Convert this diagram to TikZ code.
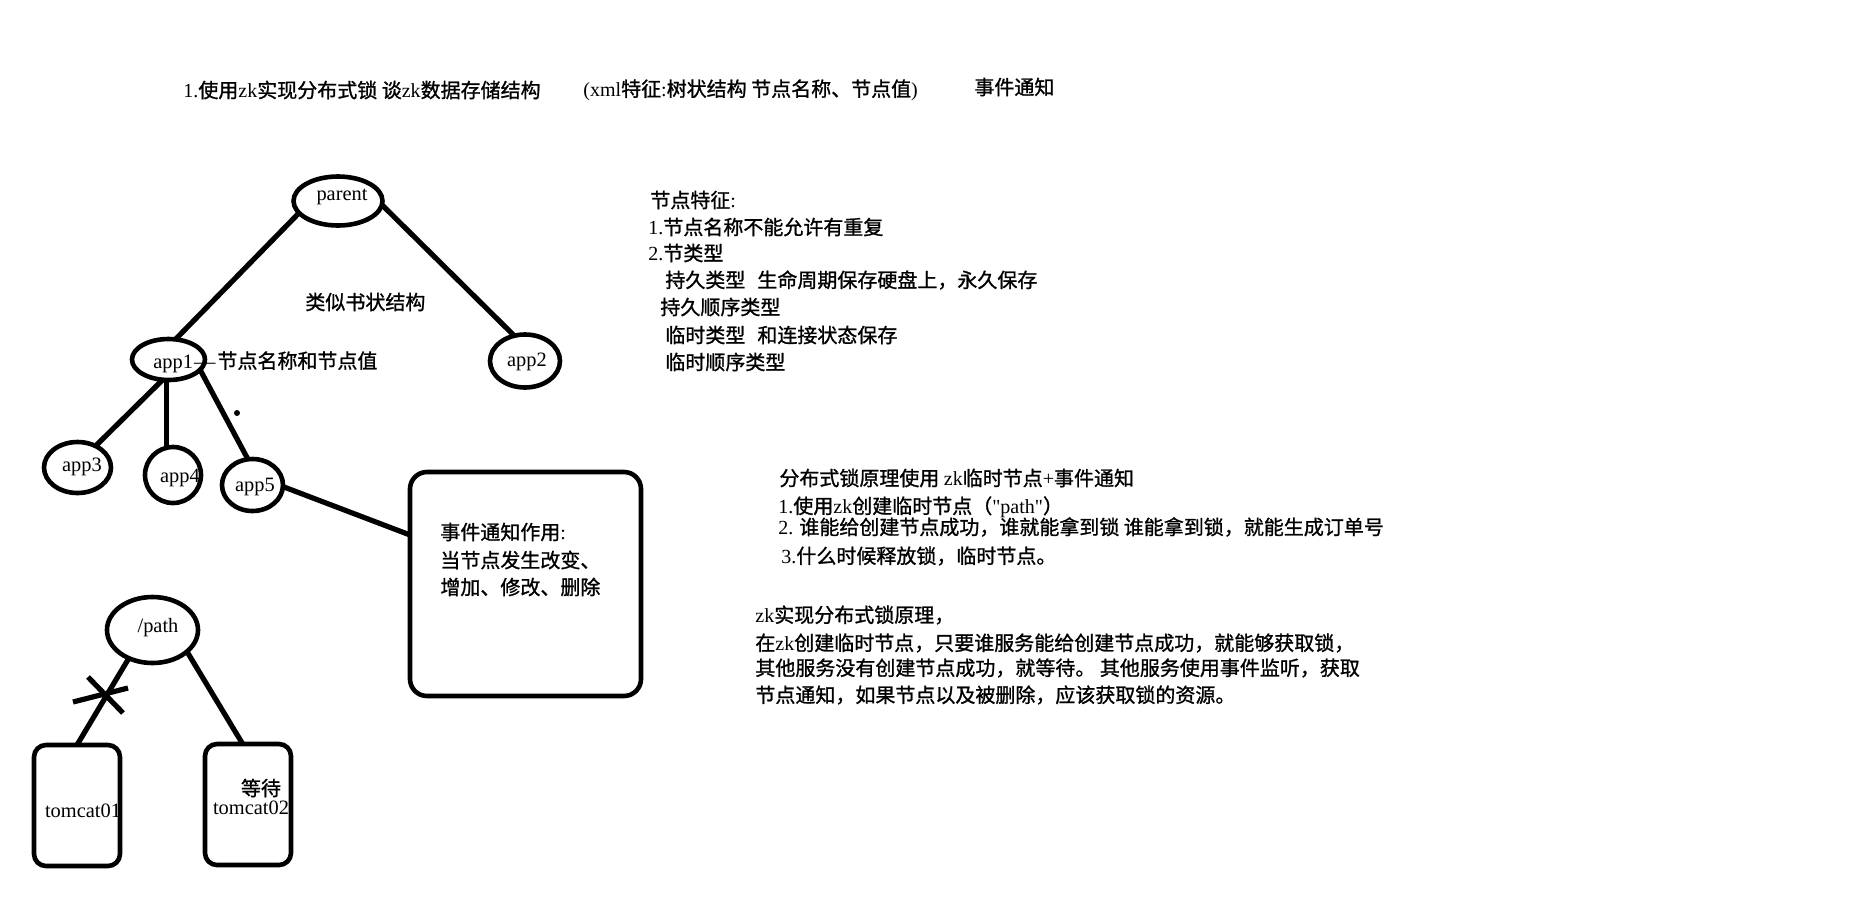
\documentclass[tikz,border=0pt]{standalone}
\usepackage{fontspec}
\setmainfont{Liberation Serif}
\newfontfamily\latq{Liberation Serif}
\newfontfamily\cjk[FakeBold=1.1]{Noto Sans CJK SC}
\usetikzlibrary{shapes.geometric}
\newcommand\lbfont{\fontsize{10.2pt}{12pt}\selectfont}
\newcommand\zhfont{\cjk\fontsize{10pt}{12pt}\selectfont}
\newcommand\latn[1]{{\rmfamily #1}}
\tikzset{
  ln/.style={line width=2.6pt},
  ell/.style={ellipse, draw, line width=2.3pt, inner sep=0pt, outer sep=0pt},
  rbox/.style={rectangle, draw, line width=2.3pt, rounded corners=6pt, inner sep=0pt, outer sep=0pt},
  lbl/.style={inner sep=0pt, font=\lbfont},
  zh/.style={inner sep=0pt, anchor=west, font=\zhfont},
}
\begin{document}
\begin{tikzpicture}[x=0.5pt,y=-0.5pt]
\fill[white] (0,0) rectangle (1876,917);
\path[use as bounding box] (0,0) rectangle (1876,917);

% title
\node[zh] (t1) at (183,90) {\latn{1.}使用\latn{zk}实现分布式锁 谈\latn{zk}数据存储结构};
\node[zh] (t2) at (583,90) {\latn{(xml}特征\latn{:}树状结构 节点名称、节点值\latn{)}};
\node[zh] (t3) at (974,87) {事件通知};

% tree
\node[ell, minimum width=44.5pt, minimum height=24.5pt] (parent) at (338,201) {};
\node[lbl] (parentt) at (342,197) {parent};
\node[ell, minimum width=36.5pt, minimum height=20.5pt] (app1) at (168.5,359.5) {};
\node[lbl, anchor=west] (app1t) at (153,362) {app1\kern0.5pt\textendash\kern0.5pt\textendash\kern1pt{\zhfont 节点名称和节点值}};
\node[ell, minimum width=35pt, minimum height=26.5pt] (app2) at (525,361) {};
\node[lbl] (app2t) at (527,362) {app2};
\node[ell, minimum width=33.5pt, minimum height=25.5pt] (app3) at (77.5,467.5) {};
\node[lbl] (app3t) at (82,467) {app3};
\node[ell, minimum width=28pt, minimum height=28pt] (app4) at (173,475) {};
\node[lbl] (app4t) at (180,478) {app4};
\node[ell, minimum width=30.5pt, minimum height=26pt] (app5) at (252.5,485) {};
\node[lbl] (app5t) at (255,487) {app5};
\node[zh] (similar) at (305,302) {类似书状结构};
\node[circle, fill, inner sep=0pt, minimum size=3pt] (dot) at (237,413) {};

\draw[ln] (parent.197) -- (app1.71);
\draw[ln] (parent.355) -- (app2.113);
\draw[ln] (app1.254) -- (app3.50);
\draw[ln] (app1.265) -- (app1.265 |- app4.north);
\draw[ln] (app1.342) -- (app5.100);

% event box
\node[rbox, rounded corners=8.5pt, minimum width=115.5pt, minimum height=112pt] (box) at (525.5,584) {};
\draw[ln] (app5.357) -- (box.157);
\node[zh] (b1) at (440,532) {事件通知作用\latn{:}};
\node[zh] (b2) at (440,560) {当节点发生改变、};
\node[zh] (b3) at (440,587) {增加、修改、删除};

% path / tomcat
\node[ell, minimum width=45.5pt, minimum height=33pt] (path) at (152.5,630) {};
\node[lbl] (patht) at (158,628) {/path};
\node[rbox, minimum width=43pt, minimum height=60.5pt] (tom1) at (77,805.5) {};
\node[rbox, minimum width=43pt, minimum height=60.5pt] (tom2) at (248,804.5) {};
\node[lbl] (tom1t) at (83,811) {tomcat01};
\node[zh, anchor=center] (wait) at (261,788) {等待};
\node[lbl] (tom2t) at (251,808) {tomcat02};
\draw[ln] (path.230) -- (tom1.north);
\draw[ln] (path.328) -- (tom2.95);
\coordinate (xa1) at (73,702);
\coordinate (xa2) at (128,688);
\coordinate (xb1) at (88,677);
\coordinate (xb2) at (123,713);
\draw[ln] (xa1) -- (xa2);
\draw[ln] (xb1) -- (xb2);

% node features
\node[zh] (f1) at (650,200) {节点特征\latn{:}};
\node[zh] (f2) at (648,227) {\latn{1.}节点名称不能允许有重复};
\node[zh] (f3) at (648,253) {\latn{2.}节类型};
\node[zh] (f4) at (665,280) {持久类型\hspace{6pt}生命周期保存硬盘上，永久保存};
\node[zh] (f5) at (660,307) {持久顺序类型};
\node[zh] (f6) at (665,335) {临时类型\hspace{6pt}和连接状态保存};
\node[zh] (f7) at (665,362) {临时顺序类型};

% lock principle
\node[zh] (p1) at (779,478) {分布式锁原理使用 \latn{zk}临时节点\latn{+}事件通知};
\node[zh] (p2) at (778,507) {\latn{1.}使用\latn{zk}创建临时节点（{\latq "path"}）};
\node[zh] (p3) at (778,527) {\latn{2.} 谁能给创建节点成功，谁就能拿到锁 谁能拿到锁，就能生成订单号};
\node[zh] (p4) at (781,556) {\latn{3.}什么时候释放锁，临时节点。};

% zk principle
\node[zh] (q1) at (755,615) {\latn{zk}实现分布式锁原理，};
\node[zh] (q2) at (755,643) {在\latn{zk}创建临时节点，只要谁服务能给创建节点成功，就能够获取锁，};
\node[zh] (q3) at (755,668) {其他服务没有创建节点成功，就等待。 其他服务使用事件监听，获取};
\node[zh] (q4) at (755,695) {节点通知，如果节点以及被删除，应该获取锁的资源。};
\end{tikzpicture}
\end{document}
